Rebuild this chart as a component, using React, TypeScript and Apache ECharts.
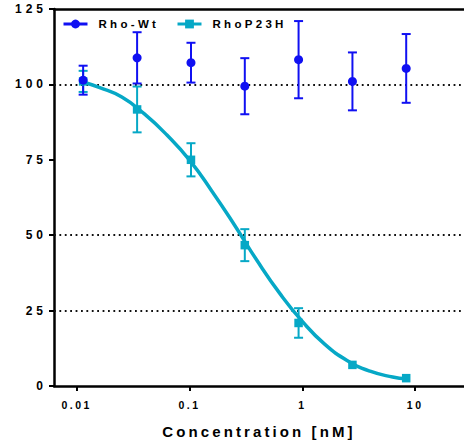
import React, { useEffect, useRef } from "react";
import * as echarts from "echarts";

// ---- data ----
const concentrations = [0.0114, 0.0343, 0.103, 0.309, 0.926, 2.78, 8.33];
const wtMean = [101.4, 108.8, 107.2, 99.4, 108.2, 101.0, 105.3];
const wtErr = [4.8, 8.5, 6.6, 9.3, 12.8, 9.6, 11.4];
const p23hMean = [101.0, 91.7, 75.0, 46.7, 20.9, 7.0, 2.6];
const p23hErr = [3.5, 7.6, 5.5, 5.3, 4.9, 0, 0];

// fitted curve
const curveX = [0.0114, 0.0158, 0.0251, 0.0398, 0.0631, 0.1, 0.158, 0.251, 0.398, 0.631, 1.0, 1.585, 2.512, 3.98, 6.31, 8.33];
const curveY = [100.8, 99.0, 95.8, 90.2, 83.2, 74.9, 64.6, 53.3, 41.5, 30.7, 21.4, 13.8, 8.4, 4.9, 3.0, 2.4];

const refLines = [25, 50, 100];
const xTickValues = [0.01, 0.1, 1, 10];
const xTickLabels = ["0.01", "0.1", "1", "10"];
const yTickLabels = ["0", "25", "50", "75", "100", "125"];
const seriesNames = ["Rho-Wt", "RhoP23H"];
const xTitle = "Concentration [nM]";

const BLUE = "#1010F2";
const CYAN = "#06A8C6";
const FONT = "'Liberation Sans', Arial, sans-serif";

function errorBarSeries(name: string, means: number[], errs: number[], color: string) {
  const data = concentrations
    .map((c, i) => [c, means[i] - errs[i], means[i] + errs[i], errs[i]])
    .filter((d) => d[3] > 0);
  return {
    type: "custom",
    name: name + "-err",
    data,
    encode: { x: 0, y: [1, 2] },
    renderItem: (params: any, api: any) => {
      const x = api.value(0);
      const top = api.coord([x, api.value(2)]);
      const bot = api.coord([x, api.value(1)]);
      const hw = 4.5;
      const style = { stroke: color, lineWidth: 2 };
      return {
        type: "group",
        children: [
          { type: "line", shape: { x1: top[0], y1: top[1], x2: bot[0], y2: bot[1] }, style },
          { type: "line", shape: { x1: top[0] - hw, y1: top[1], x2: top[0] + hw, y2: top[1] }, style },
          { type: "line", shape: { x1: bot[0] - hw, y1: bot[1], x2: bot[0] + hw, y2: bot[1] }, style },
        ],
      };
    },
    z: 3,
  };
}

export default function App() {
  const ref = useRef<HTMLDivElement>(null);
  useEffect(() => {
    if (!ref.current) return;
    const chart = echarts.init(ref.current, undefined, { renderer: "svg" });
    const xMin = 0.00629;
    const xMax = 27.1;
    const legendCommon = {
      top: 18,
      padding: 0,
      itemWidth: 24,
      itemHeight: 11,
      textStyle: { fontFamily: FONT, fontWeight: "bold", fontSize: 11.5, color: "#000", padding: [0, 0, 0, 6] },
    };
    chart.setOption({
      animation: false,
      backgroundColor: "#fff",
      grid: { left: 54, right: 0, top: 9, bottom: 57, containLabel: false },
      legend: [
        { ...legendCommon, left: 62, data: [{ name: seriesNames[0], lineStyle: { width: 3, color: BLUE, opacity: 1 } }] },
        { ...legendCommon, left: 176, data: [{ name: seriesNames[1], lineStyle: { width: 3, color: CYAN, opacity: 1 } }] },
      ],
      xAxis: [
        {
          type: "log",
          logBase: 10,
          min: xMin,
          max: xMax,
          position: "bottom",
          name: xTitle,
          nameLocation: "middle",
          nameGap: 38,
          nameTextStyle: { fontFamily: FONT, fontWeight: "bold", fontSize: 15, color: "#000" },
          axisLine: { show: true, lineStyle: { color: "#000", width: 2.5 } },
          axisTick: { show: true, length: 5, lineStyle: { color: "#000", width: 2 }, customValues: xTickValues },
          axisLabel: {
            customValues: xTickValues,
            margin: 13,
            fontFamily: FONT,
            fontWeight: "bold",
            fontSize: 10.5,
            color: "#000",
            formatter: (v: number) => {
              let best = 0;
              xTickValues.forEach((t, i) => {
                if (Math.abs(Math.log10(v) - Math.log10(t)) < Math.abs(Math.log10(v) - Math.log10(xTickValues[best]))) best = i;
              });
              return xTickLabels[best];
            },
          },
          splitLine: { show: false },
          minorTick: { show: false },
        },
        {
          type: "log",
          logBase: 10,
          min: xMin,
          max: xMax,
          position: "top",
          axisLine: { show: true, lineStyle: { color: "#000", width: 2.5 } },
          axisTick: { show: false },
          axisLabel: { show: false },
          splitLine: { show: false },
        },
      ],
      yAxis: {
        type: "value",
        min: 0,
        max: 125,
        interval: 25,
        axisLine: { show: true, lineStyle: { color: "#000", width: 2.5 } },
        axisTick: { show: true, length: 5, lineStyle: { color: "#000", width: 2 } },
        axisLabel: {
          margin: 7,
          fontFamily: FONT,
          fontWeight: "bold",
          fontSize: 12,
          color: "#000",
          formatter: (v: number) => yTickLabels[Math.round(v / 25)] ?? String(v),
        },
        splitLine: { show: false },
      },
      series: [
        {
          type: "line",
          name: "fit",
          data: curveX.map((x, i) => [x, curveY[i]]),
          smooth: 0.5,
          showSymbol: false,
          symbol: "none",
          lineStyle: { color: CYAN, width: 3.5 },
          z: 2,
          markLine: {
            silent: true,
            symbol: "none",
            label: { show: false },
            lineStyle: { color: "#111", width: 1.8, type: [1.8, 3.6] },
            data: refLines.map((v) => ({ yAxis: v })),
            z: 1,
          },
        },
        errorBarSeries(seriesNames[1], p23hMean, p23hErr, CYAN),
        {
          type: "line",
          name: seriesNames[1],
          data: concentrations.map((c, i) => [c, p23hMean[i]]),
          symbol: "rect",
          symbolSize: 8.5,
          itemStyle: { color: CYAN },
          lineStyle: { width: 0, color: CYAN },
          z: 4,
        },
        errorBarSeries(seriesNames[0], wtMean, wtErr, BLUE),
        {
          type: "line",
          name: seriesNames[0],
          data: concentrations.map((c, i) => [c, wtMean[i]]),
          symbol: "circle",
          symbolSize: 9,
          itemStyle: { color: BLUE },
          lineStyle: { width: 0, color: BLUE },
          z: 6,
        },
      ],
    });

    // letter spacing like the reference's spaced bold lettering
    const svg = ref.current.querySelector("svg");
    if (svg) {
      svg.querySelectorAll("text").forEach((t) => {
        const s = (t.textContent || "").trim();
        let ls = 0;
        if (yTickLabels.includes(s)) ls = 4;
        else if (xTickLabels.includes(s)) ls = 2.5;
        else if (s === xTitle) ls = 3.1;
        else if (seriesNames.includes(s)) ls = 3.3;
        if (ls) (t as SVGTextElement).style.letterSpacing = ls + "px";
      });
    }
    return () => chart.dispose();
  }, []);
  return <div ref={ref} style={{ position: "absolute", left: 0, top: 0, width: 464, height: 444 }} />;
}
